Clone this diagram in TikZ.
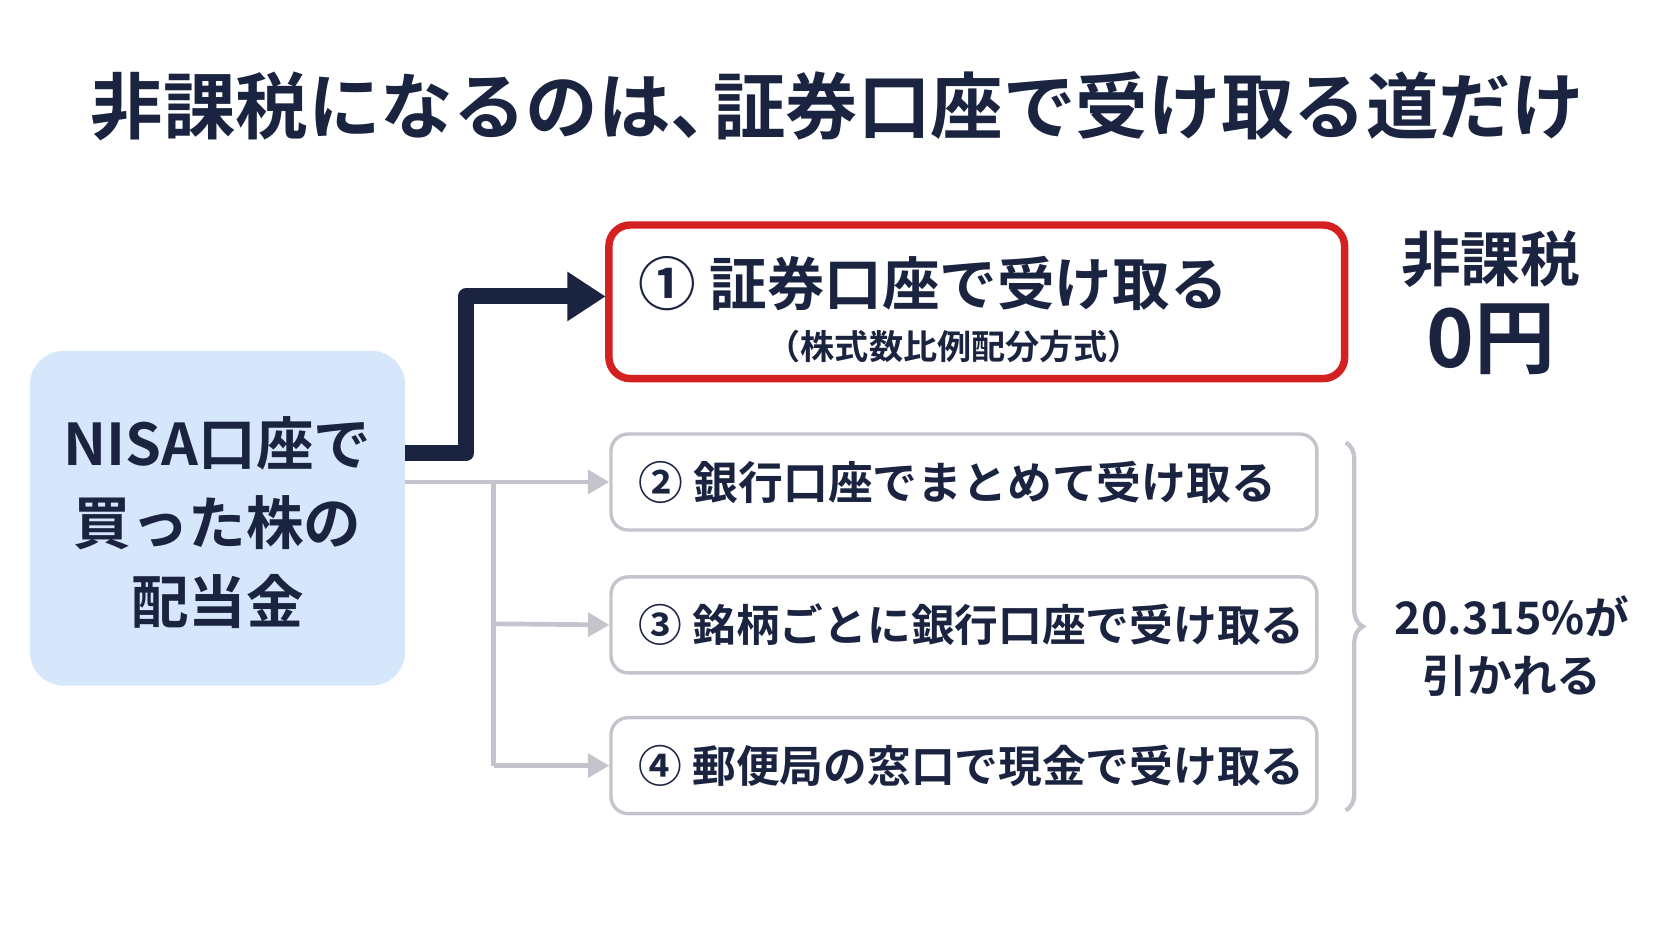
\documentclass[tikz,border=0pt]{standalone}
\usepackage{fontspec}
\setmainfont{Noto Sans CJK JP}[BoldFont={* Bold}]
\usetikzlibrary{arrows.meta,decorations.pathreplacing}
\definecolor{navy}{HTML}{1A2340}
\definecolor{lblue}{HTML}{D6E7FB}
\definecolor{rred}{HTML}{D42020}
\definecolor{gline}{HTML}{C4C4CC}
\begin{document}
\begin{tikzpicture}[x=0.5pt,y=-0.5pt,
  txt/.style={text=navy,font=\bfseries},
  gbox/.style={draw=gline,line width=1.6pt,rounded corners=8pt,fill=white},
  garrow/.style={draw=gline,line width=2.2pt,-{Triangle[length=10pt,width=11pt]}},
  gline/.style={draw=gline,line width=2.2pt}]
\fill[white] (0,0) rectangle (1568,880);
\useasboundingbox (0,0) rectangle (1568,880);
\node[txt,font=\bfseries\fontsize{34}{40}\selectfont] (title) at (785,100) {非課税になるのは、\hspace{-14pt}証券口座で受け取る道だけ};
\node[fill=lblue,rounded corners=16pt,minimum width=176pt,minimum height=157pt] (src) at (204,486) {};
\node[txt,align=center,font=\bfseries\fontsize{27}{37}\selectfont] (srct) at (204,490) {NISA口座で\\買った株の\\配当金};
\node[draw=rred,line width=3.5pt,rounded corners=10pt,fill=white,minimum width=345pt,minimum height=72pt] (b1) at (916,283) {};
\node[txt,anchor=west,font=\bfseries\fontsize{27}{30}\selectfont] (b1t) at (592,266) {① 証券口座で受け取る};
\node[txt,font=\bfseries\fontsize{16}{18}\selectfont] (b1s) at (895,325) {（株式数比例配分方式）};
\node[txt,font=\bfseries\fontsize{28}{30}\selectfont] (tf) at (1398,243) {非課税};
\node[txt,font=\bfseries\fontsize{38}{40}\selectfont] (zero) at (1398,318) {0円};
\node[gbox,minimum width=331pt,minimum height=45pt] (b2) at (904,452) {};
\node[gbox,minimum width=331pt,minimum height=45pt] (b3) at (904,586) {};
\node[gbox,minimum width=331pt,minimum height=45pt] (b4) at (904,718) {};
\node[txt,anchor=west,font=\bfseries\fontsize{21}{22}\selectfont] at (592,452) {② 銀行口座でまとめて受け取る};
\node[txt,anchor=west,font=\bfseries\fontsize{20.5}{22}\selectfont] at (592,586) {③ 銘柄ごとに銀行口座で受け取る};
\node[txt,anchor=west,font=\bfseries\fontsize{20.5}{22}\selectfont] at (592,718) {④ 郵便局の窓口で現金で受け取る};
\node[txt,align=center,font=\bfseries\fontsize{21}{27}\selectfont] (tax) at (1418,606) {20.315\%が\\引かれる};
\coordinate (j1) at (463,585);
\coordinate (j2) at (463,718);
\coordinate (a1) at (568,278);
\draw[navy,line width=7.5pt,line join=round,-{Triangle[length=18pt,width=22pt]}] (380,425) -- (437,425) -- (437,278) -- (a1);
\draw[garrow] (380,452) -- (b2.west);
\draw[gline] (463,452) -- (j2);
\draw[garrow] (j1) -- (b3.west);
\draw[garrow] (j2) -- (b4.west);
\draw[gline,line width=2pt,decorate,decoration={brace,amplitude=8pt}] (1262,415) -- (1262,760);
\end{tikzpicture}
\end{document}
